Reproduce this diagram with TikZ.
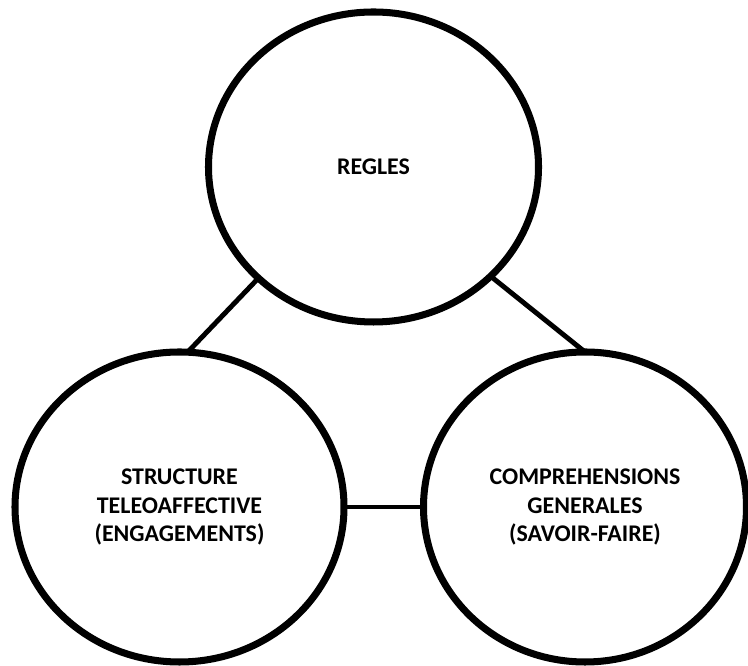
\documentclass[tikz,border=0pt]{standalone}
\usepackage{fontspec}
\setmainfont{Carlito}
\usetikzlibrary{shapes.geometric}

\begin{document}
\begin{tikzpicture}[
      bubble/.style={draw,ellipse,line width=4pt,outer sep=0pt,align=center,
        font=\fontsize{13.6}{16.2}\selectfont\bfseries},
      link/.style={line width=2.8pt}]
      \useasboundingbox (0,0) rectangle (14.96,13.32);
      \node[bubble,minimum width=6.6cm,minimum height=6.2cm] (regles) at (7.47,9.98) {REGLES};
      \node[bubble,minimum width=6.58cm,minimum height=6.2cm] (structure) at (3.59,3.18)
        {STRUCTURE\\TELEOAFFECTIVE\\(ENGAGEMENTS)};
      \node[bubble,minimum width=6.46cm,minimum height=6.2cm] (comprehensions) at (11.70,3.18)
        {COMPREHENSIONS\\GENERALES\\(SAVOIR-FAIRE)};
      \draw[link] (regles.224) -- (structure.87);
      \draw[link] (regles.317) -- (comprehensions.90);
      \draw[link] (structure) -- (comprehensions);
  \end{tikzpicture}
\end{document}
